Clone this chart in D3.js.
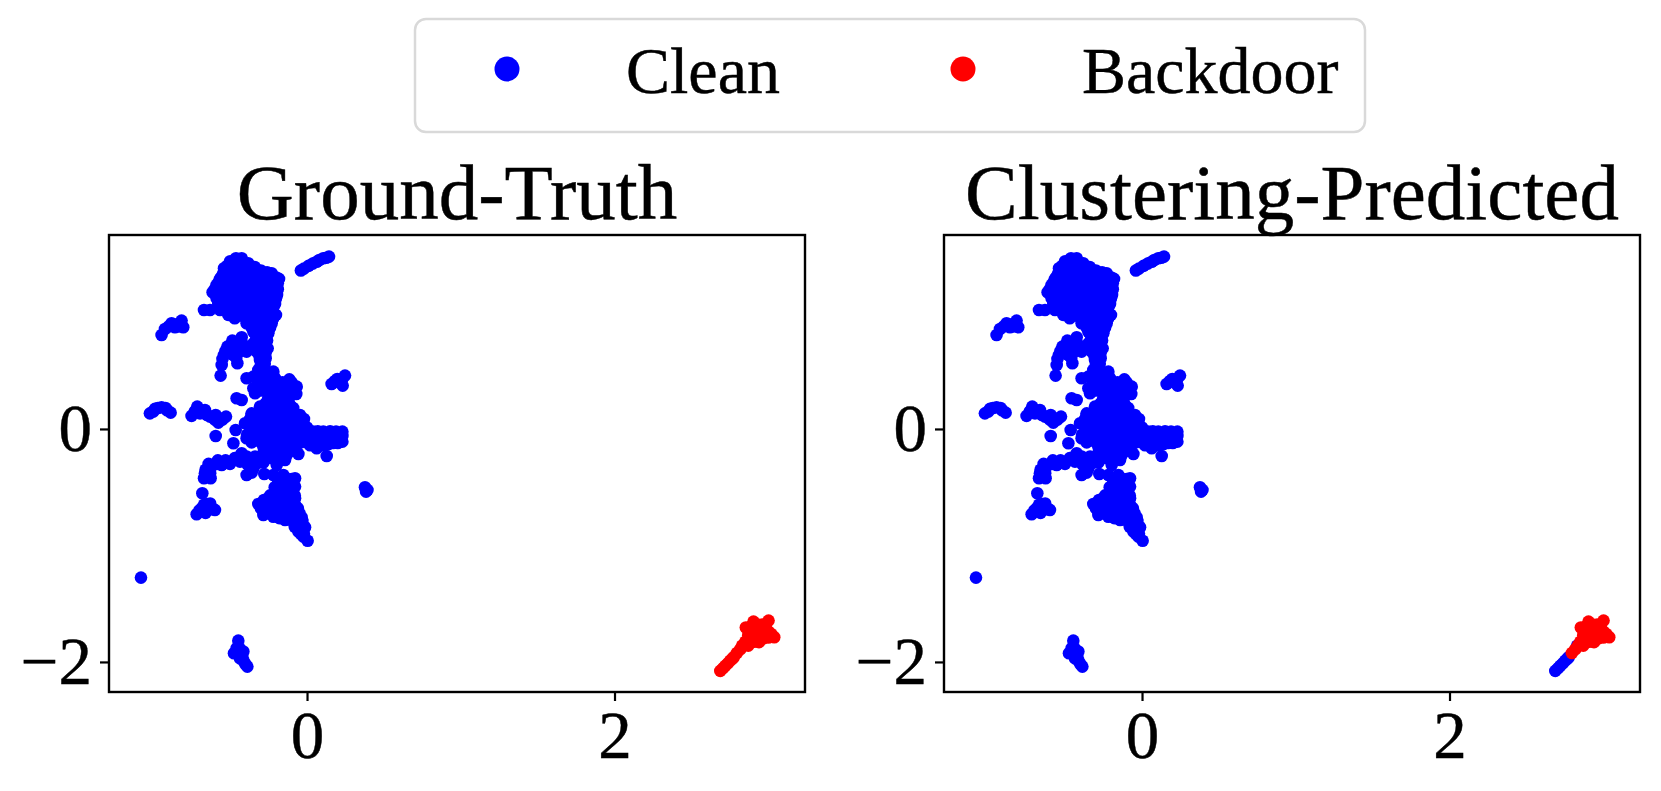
<!DOCTYPE html>
<html><head><meta charset="utf-8">
<script src="https://cdn.jsdelivr.net/npm/d3@7"></script>
<style>html,body{margin:0;padding:0;background:#fff}svg{display:block}text{font-family:"Liberation Serif",serif;fill:#000;stroke:#000;stroke-width:.45px}</style>
</head><body><svg id="c" width="1661" height="791"></svg>
<script>
const panelTitles = ["Ground-Truth", "Clustering-Predicted"];
const legendLabels = ["Clean", "Backdoor"];
const xTicks = [0, 2];
const yTicks = [0, -2];
const xDomain = [-1.288, 3.239];
const yDomain = [-2.258, 1.665];
const cleanStreak = [[-.04,1.36],[-.02,1.376],[.01,1.4],[.037,1.419],[.063,1.436],[.08,1.45],[.106,1.465],[.125,1.47],[.143,1.479]];
const cleanTopBlob = [
[-.462,1.465],[-.425,1.465],[-.479,1.422],[-.41,1.422],[-.382,1.422],
[-.54,1.379],[-.49,1.379],[-.425,1.379],[-.36,1.379],
[-.544,1.336],[-.479,1.336],[-.414,1.336],[-.349,1.336],[-.284,1.336],[-.23,1.336],
[-.566,1.288],[-.501,1.288],[-.436,1.288],[-.371,1.288],[-.306,1.288],[-.241,1.288],[-.182,1.288],
[-.588,1.236],[-.523,1.236],[-.458,1.236],[-.393,1.236],[-.328,1.236],[-.262,1.236],[-.202,1.236],
[-.614,1.173],[-.544,1.173],[-.479,1.173],[-.414,1.173],[-.349,1.173],[-.284,1.173],[-.202,1.173],
[-.588,1.122],[-.523,1.122],[-.458,1.122],[-.393,1.122],[-.328,1.122],[-.262,1.122],[-.202,1.122],
[-.577,1.073],[-.512,1.073],[-.447,1.073],[-.382,1.073],[-.317,1.073],[-.252,1.073],[-.208,1.073],
[-.67,1.021],[-.631,1.021],[-.566,1.021],[-.501,1.021],[-.436,1.021],[-.371,1.021],[-.306,1.021],[-.241,1.021],
[-.512,.979],[-.436,.979],[-.371,.979],[-.306,.979],[-.241,.979],[-.202,.979],
[-.393,.907],[-.328,.907],[-.262,.907],[-.23,.907],[-.349,.835],[-.284,.835],[-.252,.835]];
const cleanTopFill = [
[-.6,1.2],[-.575,1.26],[-.555,1.31],[-.52,1.4],[-.5,1.44],
[-.34,1.39],[-.3,1.36],[-.26,1.345],[-.2,1.3],[-.19,1.25],[-.19,1.2],[-.195,1.15],
[-.55,1.262],[-.49,1.262],[-.42,1.262],[-.36,1.262],[-.29,1.262],[-.23,1.262],
[-.51,1.148],[-.445,1.148],[-.38,1.148],[-.315,1.148],[-.25,1.148],
[-.54,1.045],[-.48,1.045],[-.41,1.045],[-.345,1.045],[-.28,1.045],[-.22,1.045],
[-.47,.95],[-.4,.95],[-.34,.95],[-.27,.95],[-.22,.95],[-.36,.87],[-.3,.87],[-.24,.87],[-.33,.8],[-.27,.8]];
const cleanNeck = [
[-.425,.787],[-.486,.758],[-.518,.707],[-.54,.635],[-.555,.549],[-.562,.458],[-.453,.564],[-.479,.635],[-.393,.664],[-.414,.721],
[-.306,.793],[-.252,.821],[-.349,.735],[-.284,.721],[-.256,.692],[-.328,.664],[-.269,.607],[-.306,.592],[-.284,.521],[-.317,.506],
[-.393,.435],[-.349,.449],[-.284,.449],[-.219,.492],[-.208,.435],[-.115,.426],[-.067,.363],[-.143,.363],[-.208,.363],[-.273,.363],[-.349,.349],[-.338,.306],
[-.121,.249],[-.187,.278],[-.252,.263],[-.176,.206],[-.241,.192],[-.111,.206],[-.306,.192]];
const cleanNeckFill = [
[-.33,.77],[-.29,.77],[-.26,.76],[-.33,.7],[-.29,.68],[-.27,.65],[-.31,.63],[-.275,.56],[-.3,.55],
[-.31,.47],[-.25,.47],[-.19,.4],[-.32,.4],[-.24,.4],[-.16,.4],[-.1,.4],[-.3,.33],[-.24,.32],[-.17,.32],[-.1,.31],[-.07,.3],
[-.21,.23],[-.15,.23],[-.09,.18],[-.27,.22],
[-.5,.69],[-.46,.7],[-.44,.74],[-.43,.67],[-.55,.6],[-.46,.61],[-.53,.67],[-.49,.73]];
const cleanCenter = [
[-.36,.134],[-.284,.134],[-.219,.134],[-.154,.134],[-.089,.134],
[-.36,.12],[-.295,.12],[-.23,.12],[-.165,.12],[-.1,.12],[-.046,.12],
[-.403,.049],[-.338,.049],[-.273,.049],[-.208,.049],[-.143,.049],[-.078,.049],[-.024,.049],
[-.36,-.023],[-.284,-.023],[-.219,-.023],[-.154,-.023],[-.089,-.023],[-.024,-.023],[.041,-.023],[.106,-.023],[.189,-.023],[.23,-.023],
[-.393,-.08],[-.328,-.08],[-.262,-.08],[-.197,-.08],[-.132,-.08],[-.067,-.08],[-.024,-.08],
[.041,-.109],[.106,-.109],[.171,-.109],[.23,-.109],[.189,-.08],[.23,-.06],
[-.284,-.152],[-.219,-.152],[-.154,-.152],[-.089,-.152],[-.056,-.215],[.063,-.166],[.128,-.232],
[-.262,-.223],[-.197,-.223],[-.132,-.223],[-.143,-.266],[-.284,-.289],[-.197,-.309]];
const cleanCenterFill = [
[-.26,.16],[-.2,.16],[-.13,.16],[-.33,.09],
[-.37,.085],[-.31,.085],[-.24,.085],[-.18,.085],[-.11,.085],[-.05,.085],[-.02,.085],
[-.37,.013],[-.31,.013],[-.25,.013],[-.18,.013],[-.12,.013],[-.05,.013],[0,.013],
[-.39,-.05],[-.32,-.05],[-.25,-.05],[-.19,-.05],[-.12,-.05],[-.06,-.05],[0,-.05],[.06,-.05],[.12,-.05],[.15,-.05],[.2,-.05],
[-.36,-.115],[-.3,-.115],[-.23,-.115],[-.16,-.115],[-.1,-.115],[-.04,-.115],[0,-.115],
[-.28,-.19],[-.24,-.19],[-.17,-.19],[-.11,-.19],[-.07,-.19],[-.23,-.25],[-.17,-.25],
[0,-.1],[.03,-.07],[.075,-.06],[.14,-.07],[.075,-.13],[.14,-.13],[.2,-.12],[.02,-.14],
[.15,-.02],[.07,-.02],[.21,-.08],[.08,-.09],[.12,-.09],[.17,-.085],[.05,-.14],[.11,-.14],[.03,-.03],[.17,-.12]];
const cleanLeftArm = [
[-.425,-.209],[-.393,-.237],[-.338,-.237],[-.436,-.28],[-.501,-.3],[-.555,-.309],[-.61,-.309],[-.642,-.338],[-.67,-.423],[-.627,-.423],[-.664,-.381],[-.393,-.395],[-.349,-.338],[-.278,-.386],
[-.681,-.552],[-.649,-.644],[-.599,-.695],[-.718,-.732],[-.685,-.681],[-.642,-.695],
[-.47,-.25],[-.53,-.27],[-.58,-.27],[-.64,-.3],[-.39,-.3],[-.35,-.28],[-.66,-.35],[-.63,-.38],[-.58,-.3],[-.43,-.23],[-.32,-.29],[-.36,-.375],[-.37,-.36],
[-.67,-.65],[-.63,-.64],[-.66,-.72],[-.62,-.68],[-.7,-.7]];
const cleanSouth = [
[-.219,-.395],[-.154,-.395],[-.078,-.423],[-.078,-.495],[-.132,-.466],[-.187,-.466],[-.078,-.595],[-.132,-.552],[-.208,-.538],[-.252,-.595],[-.317,-.644],[-.262,-.667],[-.197,-.638],[-.132,-.638],[-.078,-.652],[-.284,-.738],[-.219,-.753],[-.143,-.781],[-.078,-.795],[-.035,-.758],[-.013,-.844],[-.056,-.881],[.004,-.959],[-.024,-.924],[-.197,-.71],[-.132,-.724],
[-.19,-.43],[-.13,-.43],[-.1,-.43],[-.17,-.51],[-.12,-.51],[-.09,-.51],[-.21,-.5],[-.24,-.57],[-.18,-.57],[-.12,-.57],[-.08,-.57],
[-.28,-.61],[-.22,-.61],[-.16,-.61],[-.11,-.61],[-.3,-.68],[-.23,-.68],[-.16,-.68],[-.1,-.68],[-.06,-.68],[-.28,-.72],[-.24,-.72],[-.17,-.72],[-.1,-.72],[-.05,-.72],
[-.18,-.765],[-.11,-.78],[-.05,-.78],[-.03,-.79],[-.08,-.84],[-.05,-.84],[-.02,-.84],[-.04,-.9],[-.02,-.9]];
const cleanSatellites = [
[.16,.386],[.197,.429],[.247,.458],[.232,.372],[.21,.4],[.23,.43],[.18,.41],
[-.946,.807],[-.924,.858],[-.881,.907],[-.816,.93],[-.805,.873],[-.859,.873],[-.9,.88],[-.84,.9],[-.835,.88],
[-1.022,.134],[-.989,.172],[-.946,.186],[-.91,.16],[-.887,.14],[-.97,.18],[-1,.15],[-.92,.18],
[-.751,.112],[-.714,.192],[-.696,.134],[-.664,.163],[-.631,.106],[-.594,.12],[-.577,.054],[-.527,.106],[-.73,.15],[-.68,.15],[-.65,.12],[-.61,.1],[-.55,.08],[-.6,.08],
[-.458,.263],[-.425,.249],[-.594,-.06],[-.464,-.009],[-.479,-.123],
[.377,-.501],[.393,-.524],[.384,-.538],[-1.08,-1.276],
[-.447,-1.817],[-.414,-1.911],[-.475,-1.926],[-.436,-1.969],[-.388,-2.04],[-.458,-1.883],[-.41,-1.997],[-.44,-1.94],[-.42,-1.96],[-.4,-2.02],[-.44,-1.88]];
const backdoorTail = [[2.688,-2.077],[2.705,-2.055],[2.72,-2.034],[2.737,-2.012],[2.753,-1.989],[2.768,-1.97],[2.775,-1.96],[2.83,-1.86]];
const backdoorCore = [[2.796,-1.923],[2.818,-1.891],[2.851,-1.826],[2.854,-1.705],[2.904,-1.654],[3.002,-1.645],[3.039,-1.788],[2.909,-1.826],[2.969,-1.797],[2.894,-1.74],[2.948,-1.711],[3.002,-1.74],[2.88,-1.79],[2.96,-1.68],
[2.835,-1.86],[2.87,-1.77],[2.92,-1.77],[2.98,-1.72],[3.02,-1.76],[2.88,-1.7],[2.93,-1.68],[2.97,-1.75],[2.94,-1.83],[3,-1.79],[2.985,-1.68],[2.87,-1.86]];
const allClean = [...cleanStreak,...cleanTopBlob,...cleanTopFill,...cleanNeck,...cleanNeckFill,...cleanCenter,...cleanCenterFill,...cleanLeftArm,...cleanSouth,...cleanSatellites];

const BLUE="#0000ff", RED="#ff0000", R=6.3;
const svg=d3.select("#c");
const panels=[
 {x0:109,x1:805,title:panelTitles[0],blue:allClean,red:[...backdoorTail,...backdoorCore]},
 {x0:944,x1:1640,title:panelTitles[1],blue:[...allClean,...backdoorTail],red:backdoorCore}
];
const y=d3.scaleLinear().domain(yDomain).range([692,235]);
panels.forEach(p=>{
  const x=d3.scaleLinear().domain(xDomain).range([p.x0,p.x1]);
  const g=svg.append("g");
  [[p.blue,BLUE],[p.red,RED]].forEach(([d,c])=>{
    g.append("g").selectAll("circle").data(d).join("circle")
     .attr("cx",e=>x(e[0])).attr("cy",e=>y(e[1])).attr("r",R).attr("fill",c);
  });
  const ax=g.append("g").attr("transform","translate(0,692)").call(d3.axisBottom(x).tickValues(xTicks).tickFormat(d3.format("d")).tickSize(9).tickPadding(8));
  const ay=g.append("g").attr("transform",`translate(${p.x0},0)`).call(d3.axisLeft(y).tickValues(yTicks).tickFormat(d3.format("d")).tickSize(9).tickPadding(8));
  [ax,ay].forEach(a=>{a.select(".domain").remove();
    a.selectAll("line").attr("stroke","#000").attr("stroke-width",2.2);
    a.selectAll("text").attr("font-size",67).style("font-family",'"Liberation Serif",serif');});
  ax.selectAll("text").attr("dy",null).attr("y",66);
  ay.selectAll("text").attr("dy","0.32em");
  g.append("rect").attr("x",p.x0).attr("y",235).attr("width",p.x1-p.x0).attr("height",457).attr("fill","none").attr("stroke","#000").attr("stroke-width",2.4);
  g.append("text").attr("x",(p.x0+p.x1)/2).attr("y",219).attr("text-anchor","middle").attr("font-size",79).text(p.title);
});
const lg=svg.append("g");
lg.append("rect").attr("x",415).attr("y",19).attr("width",950).attr("height",113).attr("rx",11).attr("fill","#fff").attr("stroke","#d9d9d9").attr("stroke-width",2.5);
const legendItems=[{c:BLUE,cx:507,tx:626},{c:RED,cx:963,tx:1082}];
legendItems.forEach((it,i)=>{
  lg.append("circle").attr("cx",it.cx).attr("cy",69).attr("r",12.5).attr("fill",it.c);
  lg.append("text").attr("x",it.tx).attr("y",93).attr("font-size",66).text(legendLabels[i]);
});
</script></body></html>
